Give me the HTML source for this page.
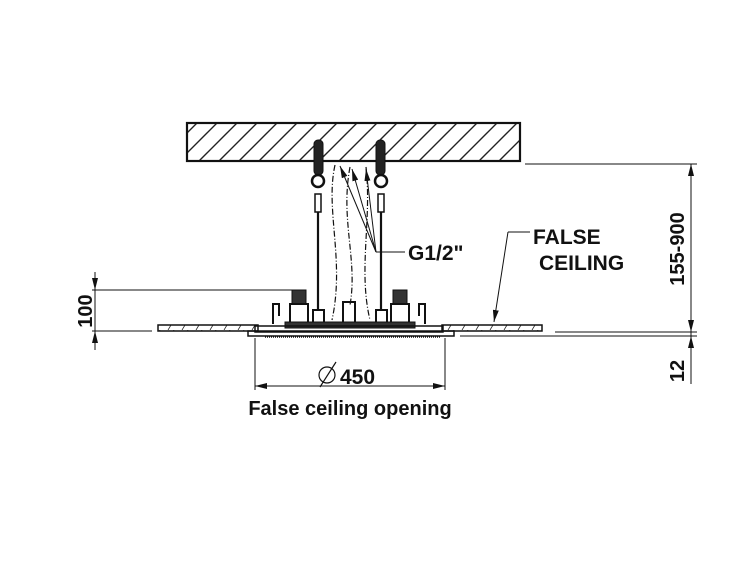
<!DOCTYPE html>
<html><head><style>
html,body{margin:0;padding:0;background:#fff;}
svg{display:block;}
text{font-family:"Liberation Sans",Arial,sans-serif;fill:#111;font-weight:bold;}
</style></head><body>
<svg width="750" height="563" viewBox="0 0 750 563" xmlns="http://www.w3.org/2000/svg">
<defs>
<pattern id="h" width="20" height="20" patternUnits="userSpaceOnUse">
<path d="M-5,25 L25,-5 M-25,25 L5,-5 M15,25 L45,-5" stroke="#222" stroke-width="1.4"/>
</pattern>
<pattern id="h2" width="14" height="10" patternUnits="userSpaceOnUse">
<path d="M0,10 L6,0 M14,10 L20,0" stroke="#222" stroke-width="0.8"/>
</pattern>
<marker id="a" markerWidth="12" markerHeight="6" refX="12" refY="3" orient="auto" markerUnits="userSpaceOnUse">
<path d="M0,0 L12,3 L0,6 z" fill="#111"/>
</marker>
</defs>
<g stroke="#111" fill="none">
<rect x="187" y="123" width="333" height="38" fill="url(#h)" stroke-width="2.2"/>
<g fill="#222" stroke="#111">
<rect x="314" y="140" width="9" height="35" rx="4"/>
<rect x="376" y="140" width="9" height="35" rx="4"/>
<circle cx="318" cy="181" r="6" fill="none" stroke-width="2.5"/>
<circle cx="381" cy="181" r="6" fill="none" stroke-width="2.5"/>
<rect x="315" y="194" width="6" height="18" fill="none" stroke-width="1.5"/>
<rect x="378" y="194" width="6" height="18" fill="none" stroke-width="1.5"/>
</g>
<line x1="318" y1="212" x2="318" y2="310" stroke-width="2.2"/>
<line x1="381" y1="212" x2="381" y2="310" stroke-width="2.2"/>
<path d="M335,165 C325,210 345,260 332,320" stroke-dasharray="6,2,1,2" stroke-width="1.2"/>
<path d="M350,167 C340,220 358,260 350,305" stroke-dasharray="6,2,1,2" stroke-width="1.2"/>
<path d="M366,167 C372,220 358,270 370,320" stroke-dasharray="6,2,1,2" stroke-width="1.2"/>
<line x1="376" y1="252" x2="340" y2="166" marker-end="url(#a)"/>
<line x1="376" y1="252" x2="352" y2="169" marker-end="url(#a)"/>
<line x1="376" y1="252" x2="366" y2="169" marker-end="url(#a)"/>
<line x1="376" y1="252" x2="405" y2="252"/>
<rect x="292" y="290" width="14" height="14" fill="#333"/>
<rect x="393" y="290" width="14" height="14" fill="#333"/>
<rect x="290" y="304" width="18" height="20" stroke-width="2"/>
<rect x="391" y="304" width="18" height="20" stroke-width="2"/>
<rect x="343" y="302" width="12" height="22" stroke-width="2"/>
<rect x="313" y="310" width="11" height="14" stroke-width="2"/>
<rect x="376" y="310" width="11" height="14" stroke-width="2"/>
<path d="M273,324 V304 h6 v12 M425,324 V304 h-6 v12" stroke-width="2"/>
<rect x="285" y="322" width="130" height="6" fill="#333"/>
<rect x="158" y="325" width="100" height="6" fill="url(#h2)" stroke-width="1.5"/>
<rect x="442" y="325" width="100" height="6" fill="url(#h2)" stroke-width="1.5"/>
<rect x="255" y="326" width="188" height="6" stroke-width="1.5"/>
<rect x="248" y="331" width="206" height="5" stroke-width="1.5"/>
<line x1="265" y1="337" x2="440" y2="337" stroke-dasharray="1,1" stroke-width="1.5"/>
<line x1="92" y1="290" x2="292" y2="290" stroke-width="1"/>
<line x1="92" y1="331" x2="152" y2="331" stroke-width="1"/>
<line x1="95" y1="272" x2="95" y2="350" stroke-width="1"/>
<line x1="95" y1="272" x2="95" y2="290" marker-end="url(#a)"/>
<line x1="95" y1="350" x2="95" y2="331" marker-end="url(#a)"/>
<line x1="525" y1="164" x2="697" y2="164" stroke-width="1"/>
<line x1="555" y1="332" x2="697" y2="332" stroke-width="1"/>
<line x1="460" y1="336" x2="697" y2="336" stroke-width="1"/>
<line x1="691" y1="164" x2="691" y2="384" stroke-width="1"/>
<line x1="691" y1="200" x2="691" y2="164" marker-end="url(#a)"/>
<line x1="691" y1="300" x2="691" y2="332" marker-end="url(#a)"/>
<line x1="691" y1="370" x2="691" y2="336" marker-end="url(#a)"/>
<line x1="255" y1="338" x2="255" y2="390" stroke-width="1"/>
<line x1="445" y1="338" x2="445" y2="390" stroke-width="1"/>
<line x1="300" y1="386" x2="255" y2="386" marker-end="url(#a)"/>
<line x1="400" y1="386" x2="445" y2="386" marker-end="url(#a)"/>
<line x1="300" y1="386" x2="400" y2="386"/>
<circle cx="327" cy="375" r="8" stroke-width="1.2"/>
<line x1="320" y1="387" x2="336" y2="362" stroke-width="1.2"/>
<line x1="530" y1="232" x2="508" y2="232"/>
<line x1="508" y1="232" x2="494" y2="322" marker-end="url(#a)"/>
</g>
<text x="408" y="260" font-size="21">G1/2"</text>
<text x="533" y="244" font-size="21">FALSE</text>
<text x="539" y="270" font-size="21">CEILING</text>
<text x="340" y="384" font-size="21">450</text>
<text x="350" y="415" font-size="20" text-anchor="middle">False ceiling opening</text>
<text transform="translate(92,311) rotate(-90)" font-size="20" text-anchor="middle">100</text>
<text transform="translate(684,249) rotate(-90)" font-size="20" text-anchor="middle">155-900</text>
<text transform="translate(684,371) rotate(-90)" font-size="20" text-anchor="middle">12</text>
</svg>
</body></html>
